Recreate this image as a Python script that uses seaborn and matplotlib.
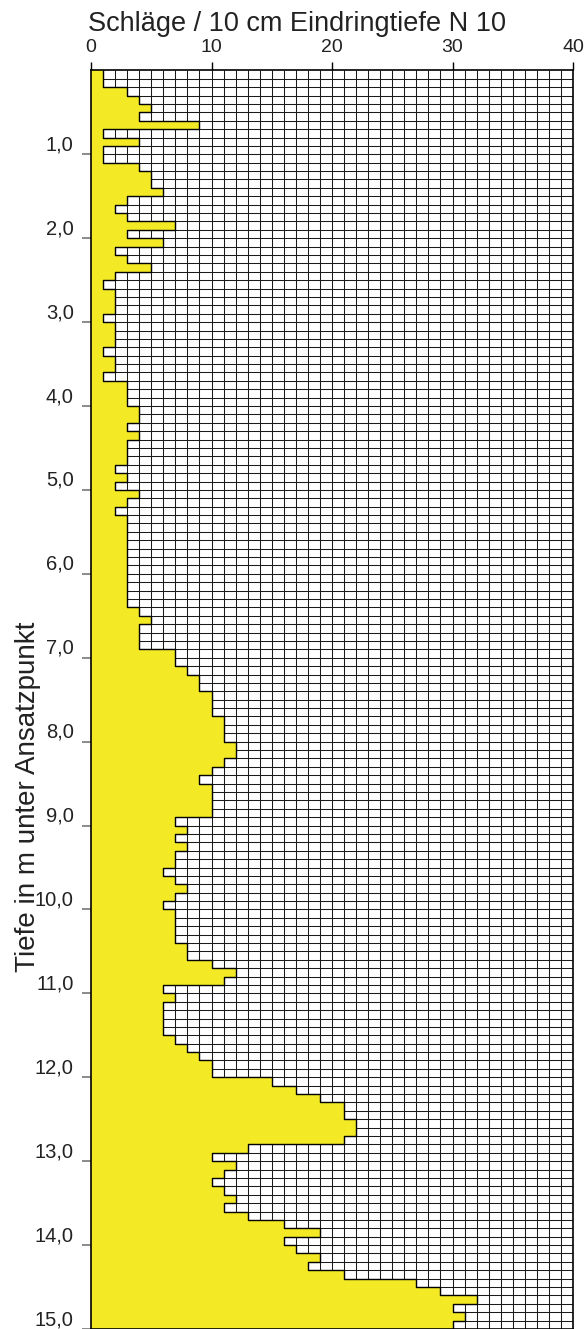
import numpy as np
import seaborn as sns
import matplotlib.pyplot as plt

# Schlagzahlen N10 je 10 cm, von 0,0 m bis 15,0 m
schlaege = [1, 1, 3, 4, 5, 4, 9, 1, 4, 1,
            1, 4, 5, 5, 6, 3, 2, 3, 7, 3,
            6, 2, 3, 5, 2, 1, 2, 2, 2, 1,
            2, 2, 2, 1, 2, 2, 1, 3, 3, 3,
            4, 4, 3, 4, 3, 3, 3, 2, 3, 2,
            4, 3, 2, 3, 3, 3, 3, 3, 3, 3,
            3, 3, 3, 3, 4, 5, 4, 4, 4, 7,
            7, 8, 9, 9, 10, 10, 10, 11, 11, 11,
            12, 12, 11, 10, 9, 10, 10, 10, 10, 7,
            8, 7, 8, 7, 7, 6, 7, 8, 7, 6,
            7, 7, 7, 7, 8, 8, 10, 12, 11, 6,
            7, 6, 6, 6, 6, 7, 8, 9, 10, 10,
            15, 17, 19, 21, 21, 22, 22, 21, 13, 10,
            12, 11, 10, 11, 12, 11, 13, 16, 19, 16,
            17, 19, 18, 21, 27, 29, 32, 30, 31, 30]
schritt = 0.1
x_ticks = [0, 10, 20, 30, 40]
y_ticks = list(range(1, 16))
y_labels = [f"{v},0" for v in y_ticks]
titel = "Schläge / 10 cm Eindringtiefe N 10"
y_titel = "Tiefe in m unter Ansatzpunkt"
gelb = "#f3e925"

n = len(schlaege)
tiefe_oben = np.round(np.arange(n) * schritt, 1)
tiefe_unten = tiefe_oben + schritt
max_tiefe = tiefe_unten[-1]

sns.set_style("white")
plt.rcParams['font.family'] = ['Liberation Sans', 'DejaVu Sans']

fig = plt.figure(figsize=(5.88, 13.29), dpi=100)
ax = fig.add_axes([91 / 588, 0.0, 482 / 588, (1329 - 70.4) / 1329])

# Raster (nur im weissen Bereich sichtbar)
ax.vlines(range(1, 40), 0, max_tiefe, color="#1a1a1a", lw=0.75, zorder=1)
ax.hlines(tiefe_oben[1:], 0, 40, color="#1a1a1a", lw=0.75, zorder=1)

# gelbe Flaeche
y_fill = np.append(tiefe_oben, max_tiefe)
x_fill = np.append(schlaege, schlaege[-1])
ax.fill_betweenx(y_fill, 0, x_fill, step="post", color=gelb, lw=0, zorder=2)

# Umriss der Treppenlinie
umriss_x = np.repeat(schlaege, 2)
umriss_y = np.column_stack([tiefe_oben, tiefe_unten]).ravel()
sns.lineplot(x=umriss_x, y=umriss_y, sort=False, estimator=None,
             color="black", lw=1.0, ax=ax, zorder=3)

ax.set_xlim(0, 40)
ax.set_ylim(max_tiefe, 0)

ax.xaxis.tick_top()
ax.set_xticks(x_ticks)
ax.set_xticklabels([str(v) for v in x_ticks])
ax.set_yticks(y_ticks)
ax.set_yticklabels(y_labels)
for lab in ax.get_yticklabels():
    lab.set_verticalalignment("bottom")

ax.tick_params(axis="x", top=True, bottom=False, length=5.5, width=1,
               color="black", labelsize=14, pad=5, labelcolor="#222222")
ax.tick_params(axis="y", left=True, length=6.5, width=1.2, color="#777777",
               labelsize=14.5, pad=6, labelcolor="#222222")

for s in ax.spines.values():
    s.set_color("black")
    s.set_linewidth(1.2)
    s.set_zorder(4)

ax.set_xlabel("")
ax.set_ylabel("")

fig.text(88 / 588, 1 - 31 / 1329, titel, ha="left", va="baseline",
         fontsize=19.5, color="#222222")
fig.text(28 / 588, 1 - 797 / 1329, y_titel, ha="center", va="center",
         rotation=90, fontsize=20, color="#222222")

fig.savefig("out.png", dpi=100)
